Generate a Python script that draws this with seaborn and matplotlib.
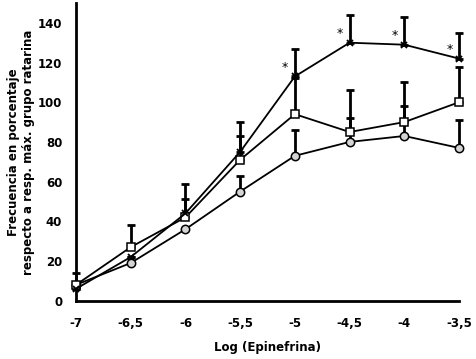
import matplotlib
matplotlib.use("Agg")
from matplotlib import pyplot as plt
import numpy as np
import pandas
import seaborn as sns

# Data
log_epi = [-7, -6.5, -6, -5.5, -5, -4.5, -4, -3.5]
x_labels = ["-7", "-6,5", "-6", "-5,5", "-5", "-4,5", "-4", "-3,5"]

cruz_mean = [6, 22, 44, 75, 113, 130, 129, 122]
cruz_err = [0, 0, 7, 15, 14, 14, 14, 13]

cuadro_mean = [8, 27, 42, 71, 94, 85, 90, 100]
cuadro_err = [0, 11, 17, 12, 18, 21, 20, 18]

circulo_mean = [8, 19, 36, 55, 73, 80, 83, 77]
circulo_err = [6, 0, 0, 8, 13, 12, 15, 14]

asterisco_x = [-5, -4.5, -4, -3.5]
asterisco_y = [113, 130, 129, 122]

yticks = [0, 20, 40, 60, 80, 100, 120, 140]

dataframe = pandas.DataFrame({
    "Log (Epinefrina)": log_epi * 3,
    "valor": cruz_mean + cuadro_mean + circulo_mean,
    "error": cruz_err + cuadro_err + circulo_err,
    "grupo": ["cruz"] * 8 + ["cuadro"] * 8 + ["circulo"] * 8,
})

sns.set_style("white", {"text.color": "black", "axes.labelcolor": "black",
                        "xtick.color": "black", "ytick.color": "black"})
plt.rcParams["font.family"] = ["DejaVu Sans"]
plt.rcParams["font.weight"] = "bold"

fig = plt.figure(figsize=(4.76, 3.59), dpi=100)
ax1 = fig.add_axes([0.1597, 0.1624, 0.8046, 0.8292])

estilos = {
    "cruz": dict(marker="x", markersize=5, mew=1.3, mfc="black"),
    "cuadro": dict(marker="s", markersize=6, mew=1.1, mfc="white"),
    "circulo": dict(marker="o", markersize=6, mew=1.1, mfc="#d4d4d4"),
}

# upper error bars only, under the lines
for grupo, sub in dataframe.groupby("grupo"):
    ax1.errorbar(sub["Log (Epinefrina)"], sub["valor"],
                 yerr=[np.zeros(len(sub)), sub["error"]],
                 fmt="none", ecolor="black", elinewidth=2, capsize=3,
                 capthick=2, zorder=1, clip_on=False)

for grupo in ["circulo", "cuadro", "cruz"]:
    sub = dataframe[dataframe["grupo"] == grupo]
    g = sns.lineplot(x=sub["Log (Epinefrina)"], y=sub["valor"], ax=ax1,
                     color="black", linewidth=1.3, mec="black",
                     clip_on=False, zorder=3, **estilos[grupo])

for xa, ya in zip(asterisco_x, asterisco_y):
    ax1.annotate("*", (xa, ya), xytext=(-7, 2), textcoords="offset points",
                 ha="center", va="bottom", fontsize=9, fontweight="normal",
                 color="black")

# Plot settings
ax1.set_xlim(-7, -3.5)
ax1.set_ylim(0, 150)
ax1.set_xticks(log_epi)
ax1.set_xticklabels(x_labels)
ax1.set_yticks(yticks)
for side in ["top", "right"]:
    ax1.spines[side].set_visible(False)
for side in ["left", "bottom"]:
    ax1.spines[side].set_linewidth(2)
    ax1.spines[side].set_color("black")
ax1.tick_params(axis="both", direction="out", length=6, width=2,
                labelsize=8.5, color="black", labelcolor="black", pad=4)
ax1.tick_params(axis="x", pad=6)
for lab in ax1.get_xticklabels() + ax1.get_yticklabels():
    lab.set_fontweight("bold")
ax1.set_xlabel("Log (Epinefrina)", fontsize=8.5, fontweight="bold",
               labelpad=8, color="black")
ax1.set_ylabel("Frecuencia en porcentaje\nrespecto a resp. máx. grupo ratarina",
               fontsize=8.5, fontweight="bold", labelpad=2, color="black")
ax1.grid(False)

fig.savefig("out.png", dpi=100)
